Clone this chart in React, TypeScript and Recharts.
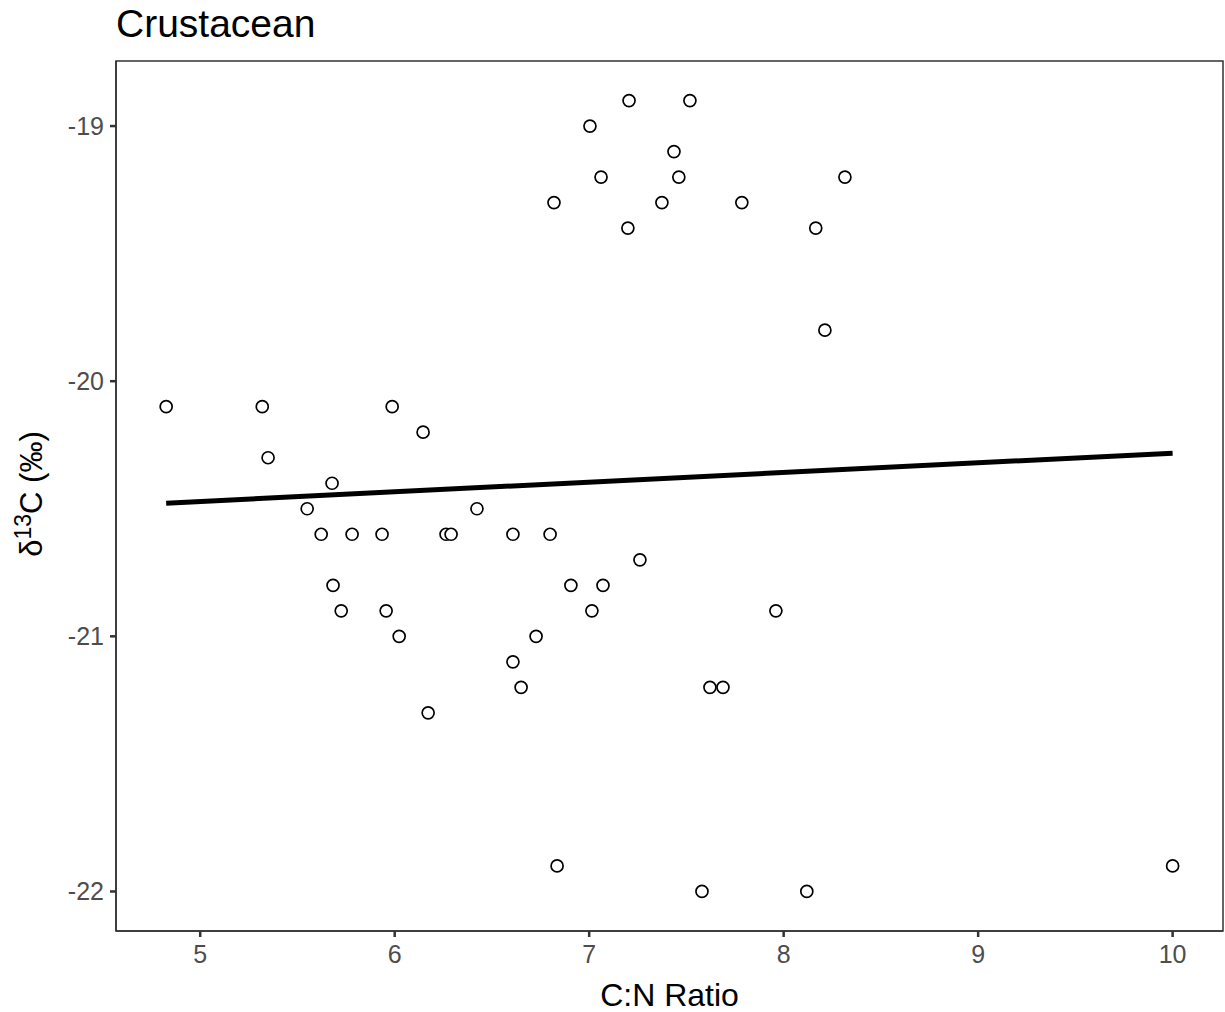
import React from "react";
import {
  ScatterChart,
  Scatter,
  XAxis,
  YAxis,
  ReferenceArea,
} from "recharts";

// C:N ratio and δ13C for each crustacean sample
const cnRatio = [
  4.825, 5.319, 5.349, 5.678, 5.55, 5.622, 5.781, 5.683, 5.725, 5.987,
  5.935, 5.956, 6.023, 6.146, 6.172, 6.264, 6.29, 6.423, 6.608, 6.608,
  6.65, 6.727, 6.799, 6.819, 6.835, 6.906, 7.004, 7.014, 7.061, 7.071,
  7.199, 7.205, 7.261, 7.374, 7.436, 7.461, 7.518, 7.58, 7.621, 7.688,
  7.785, 7.96, 8.119, 8.165, 8.212, 8.315, 10.0,
];
const d13C = [
  -20.1, -20.1, -20.3, -20.4, -20.5, -20.6, -20.6, -20.8, -20.9, -20.1,
  -20.6, -20.9, -21.0, -20.2, -21.3, -20.6, -20.6, -20.5, -20.6, -21.1,
  -21.2, -21.0, -20.6, -19.3, -21.9, -20.8, -19.0, -20.9, -19.2, -20.8,
  -19.4, -18.9, -20.7, -19.3, -19.1, -19.2, -18.9, -22.0, -21.2, -21.2,
  -19.3, -20.9, -22.0, -19.4, -19.8, -19.2, -21.9,
];

// linear fit, end points
const fitX = [4.825, 10.0];
const fitY = [-20.478, -20.282];

const xTicks = [5, 6, 7, 8, 9, 10];
const yTicks = [-22, -21, -20, -19];

const points = cnRatio.map((x, i) => ({ x, y: d13C[i] }));
const fitLine = fitX.map((x, i) => ({ x, y: fitY[i] }));

const FONT = '"Liberation Sans", Arial, Helvetica, sans-serif';
const axisColor = "#333333";
const tickColor = "#4d4d4d";

const YLabel = () => (
  <text
    x={0}
    y={0}
    transform="translate(42, 494) rotate(-90)"
    textAnchor="middle"
    fontFamily={FONT}
    fontSize={31}
    fill="#000"
  >
    δ<tspan dy={-11} fontSize={23}>13</tspan>
    <tspan dy={11}>C (‰)</tspan>
  </text>
);

export default function App() {
  return (
    <div style={{ position: "absolute", left: 0, top: 0, background: "#fff" }}>
      <ScatterChart
        width={1225}
        height={1012}
        margin={{ top: 61, right: 2, bottom: 0, left: 0 }}
      >
        <text x={116} y={37} fontFamily={FONT} fontSize={39} fill="#000">
          Crustacean
        </text>
        <XAxis
          type="number"
          dataKey="x"
          domain={[4.567, 10.259]}
          ticks={xTicks}
          height={81}
          allowDataOverflow
          axisLine={{ stroke: axisColor, strokeWidth: 1.5 }}
          tickLine={{ stroke: axisColor, strokeWidth: 2.5 }}
          tickSize={6}
          tick={{ fill: tickColor, fontSize: 25, fontFamily: FONT, dy: 6 }}
          label={{
            value: "C:N Ratio",
            position: "insideBottom",
            offset: 6,
            fill: "#000",
            fontSize: 32,
            fontFamily: FONT,
          }}
        />
        <YAxis
          type="number"
          dataKey="y"
          domain={[-22.155, -18.745]}
          ticks={yTicks}
          width={116}
          allowDataOverflow
          axisLine={{ stroke: axisColor, strokeWidth: 1.5 }}
          tickLine={{ stroke: axisColor, strokeWidth: 2.5 }}
          tickSize={6}
          tick={{ fill: tickColor, fontSize: 25, fontFamily: FONT, dx: -4 }}
          label={<YLabel />}
        />
        <ReferenceArea
          x1={4.567}
          x2={10.259}
          y1={-22.155}
          y2={-18.745}
          fill="none"
          stroke={axisColor}
          strokeWidth={1.5}
          ifOverflow="visible"
        />
        <Scatter
          data={points}
          isAnimationActive={false}
          shape={(p: any) => (
            <circle
              cx={p.cx}
              cy={p.cy}
              r={6}
              fill="#fff"
              stroke="#000"
              strokeWidth={1.7}
            />
          )}
        />
        <Scatter
          data={fitLine}
          isAnimationActive={false}
          line={{ stroke: "#000", strokeWidth: 5 }}
          lineType="joint"
          shape={() => null}
        />
      </ScatterChart>
    </div>
  );
}
